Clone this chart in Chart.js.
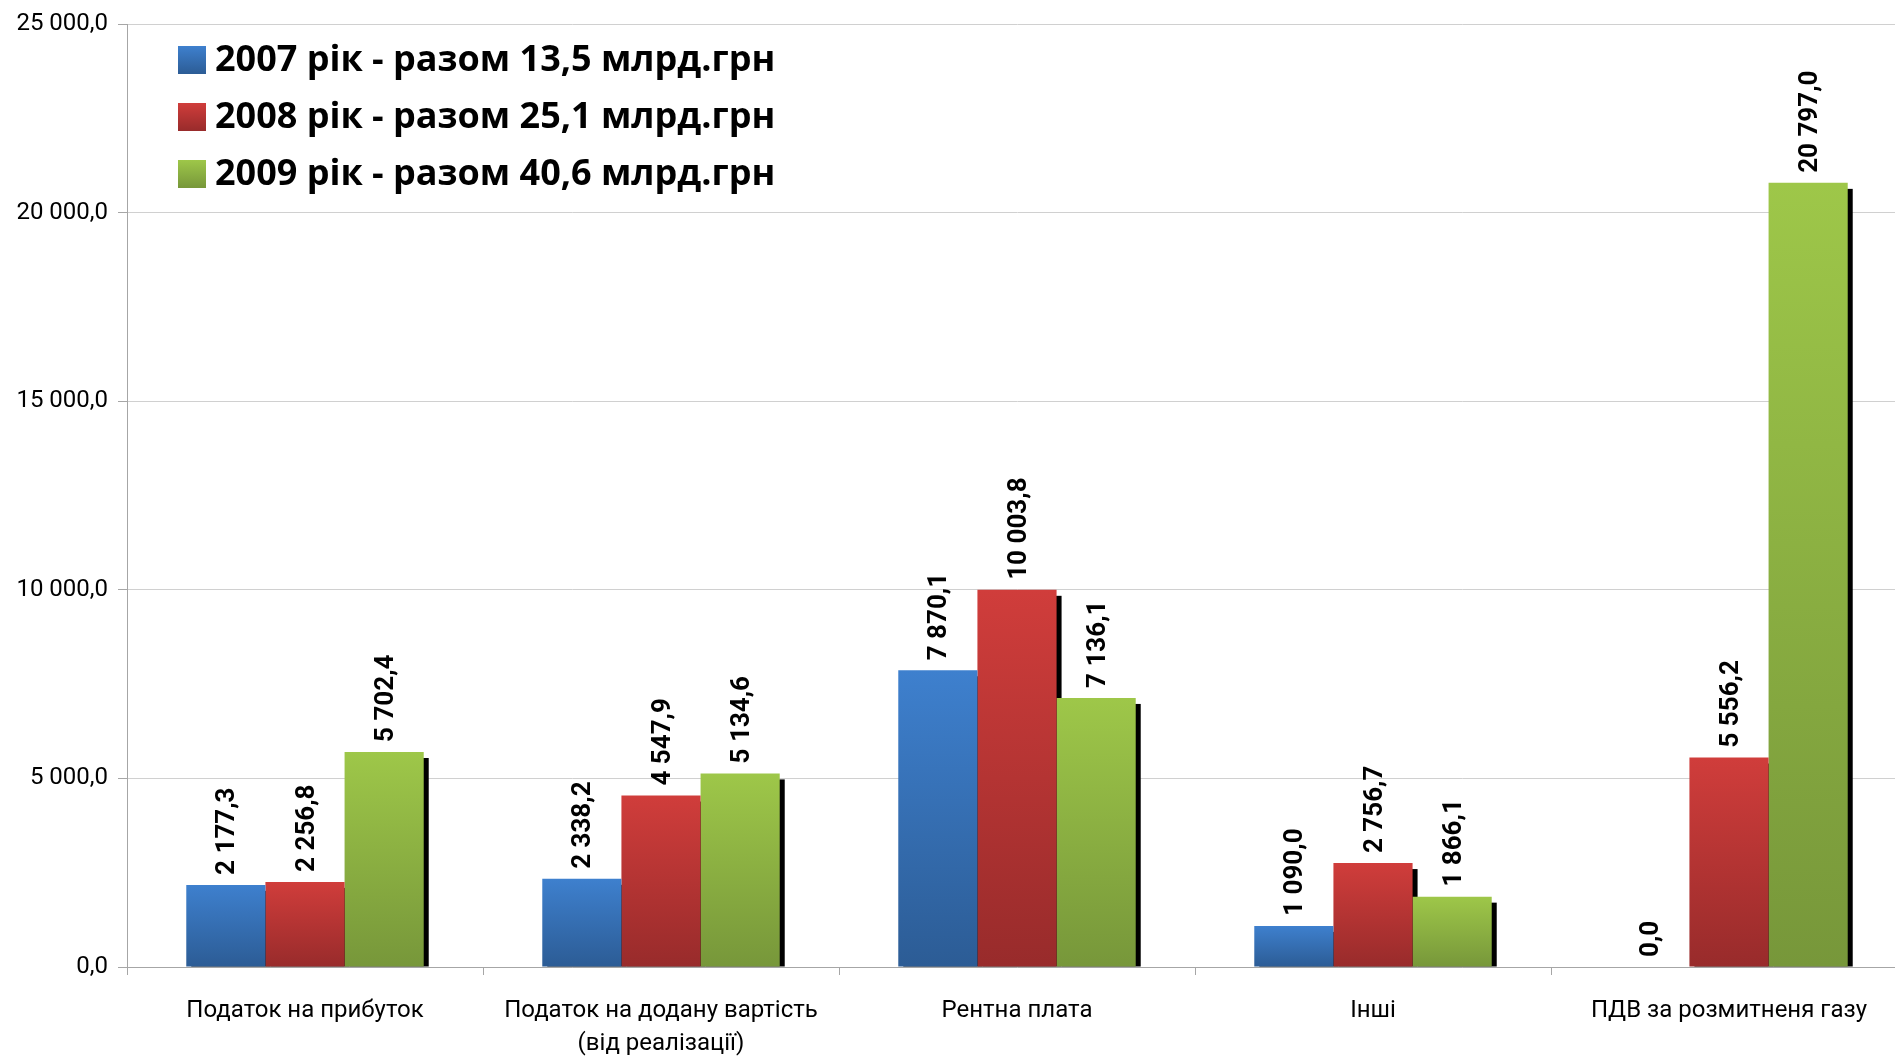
<!DOCTYPE html>
<html>
<head>
<meta charset="utf-8">
<script src="https://cdn.jsdelivr.net/npm/chart.js"></script>
<style>
  html, body { margin: 0; padding: 0; background: #fff; overflow: hidden; }
  #wrap { position: relative; width: 1907px; height: 1056px; }
</style>
</head>
<body>
<div id="wrap"><canvas id="taxChart"></canvas></div>
<script>
// categories and values (млн.грн)
const categories = [
    'Податок на прибуток',
    ['Податок на додану вартість', '(від реалізації)'],
    'Рентна плата',
    'Інші',
    'ПДВ за розмитненя газу'
];
const seriesNames = [
    '2007 рік - разом 13,5 млрд.грн',
    '2008 рік - разом 25,1 млрд.грн',
    '2009 рік - разом 40,6 млрд.грн'
];
const values2007 = [2177.3, 2338.2, 7870.1, 1090.0, 0.0];
const values2008 = [2256.8, 4547.9, 10003.8, 2756.7, 5556.2];
const values2009 = [5702.4, 5134.6, 7136.1, 1866.1, 20797.0];
const yTicks = [0, 5000, 10000, 15000, 20000, 25000];

// gradient colours: top -> bottom
const seriesColors = [
    ['#3e80ce', '#2c5c95'],
    ['#d03d3b', '#982b2b'],
    ['#9ec749', '#77973a']
];

const FONT = 'Roboto';

// "20 797,0" style numbers
function fmt(v) {
    const parts = v.toFixed(1).split('.');
    return parts[0].replace(/\B(?=(\d{3})+(?!\d))/g, ' ') + ',' + parts[1];
}

function gradientFill(idx) {
    return function(c) {
        const chart = c.chart;
        const cols = seriesColors[idx];
        if (!chart.chartArea || c.type !== 'data') return cols[0];
        const y = chart.scales.y;
        const top = y.getPixelForValue(c.raw);
        const base = y.getPixelForValue(0);
        if (base - top < 1) return cols[0];
        const g = chart.ctx.createLinearGradient(0, top, 0, base);
        g.addColorStop(0, cols[0]);
        g.addColorStop(1, cols[1]);
        return g;
    };
}

// hard black shadow to the lower right of each bar
const barShadow = {
    id: 'barShadow',
    beforeDatasetsDraw(chart) {
        const ctx = chart.ctx;
        ctx.save();
        ctx.beginPath();
        ctx.rect(chart.chartArea.left, chart.chartArea.top, chart.chartArea.width, chart.chartArea.height);
        ctx.clip();
        ctx.fillStyle = '#000';
        chart.data.datasets.forEach((ds, i) => {
            chart.getDatasetMeta(i).data.forEach(bar => {
                const p = bar.getProps(['x', 'y', 'base', 'width'], true);
                if (p.base - p.y < 6) return;
                ctx.fillRect(p.x - p.width / 2 + 5, p.y + 6, p.width, p.base - p.y - 6);
            });
        });
        ctx.restore();
    }
};

// vertical value labels above the bars
const valueLabels = {
    id: 'valueLabels',
    afterDatasetsDraw(chart) {
        const ctx = chart.ctx;
        ctx.save();
        ctx.fillStyle = '#000';
        ctx.font = 'bold 26px ' + FONT;
        ctx.textAlign = 'left';
        ctx.textBaseline = 'middle';
        chart.data.datasets.forEach((ds, i) => {
            chart.getDatasetMeta(i).data.forEach((bar, j) => {
                const p = bar.getProps(['x', 'y'], true);
                ctx.save();
                ctx.translate(p.x + 2, p.y - 10);
                ctx.rotate(-Math.PI / 2);
                ctx.fillText(fmt(ds.data[j]), 0, 0);
                ctx.restore();
            });
        });
        ctx.restore();
    }
};

// legend inside the plot, top left
const insideLegend = {
    id: 'insideLegend',
    afterDraw(chart) {
        const ctx = chart.ctx;
        const x0 = 178, y0 = 60, rowH = 57, box = 28;
        ctx.save();
        ctx.font = 'bold 36px "Open Sans"';
        ctx.textAlign = 'left';
        ctx.textBaseline = 'middle';
        chart.data.datasets.forEach((ds, i) => {
            const cy = y0 + i * rowH;
            const g = ctx.createLinearGradient(0, cy - box / 2, 0, cy + box / 2);
            g.addColorStop(0, seriesColors[i][0]);
            g.addColorStop(1, seriesColors[i][1]);
            ctx.fillStyle = g;
            ctx.fillRect(x0, cy - box / 2, box, box);
            ctx.fillStyle = '#000';
            ctx.fillText(ds.label, x0 + box + 9, cy + 1);
        });
        ctx.restore();
    }
};

const ctx = document.getElementById('taxChart').getContext('2d');
new Chart(ctx, {
    type: 'bar',
    data: {
        labels: categories,
        datasets: [
            { label: seriesNames[0], data: values2007, backgroundColor: gradientFill(0) },
            { label: seriesNames[1], data: values2008, backgroundColor: gradientFill(1) },
            { label: seriesNames[2], data: values2009, backgroundColor: gradientFill(2) }
        ]
    },
    options: {
        responsive: true,
        maintainAspectRatio: false,
        animation: false,
        events: [],
        layout: { padding: { top: 22, right: 0, left: 0, bottom: 0 } },
        datasets: {
            bar: { barPercentage: 1, categoryPercentage: 0.667, borderWidth: 0 }
        },
        plugins: {
            legend: { display: false },
            tooltip: { enabled: false }
        },
        scales: {
            x: {
                afterFit: s => { s.height = 89; },
                grid: {
                    offset: true,
                    drawOnChartArea: false,
                    drawTicks: true,
                    tickLength: 8,
                    tickColor: '#a6a6a6'
                },
                border: { color: '#a6a6a6', width: 1 },
                ticks: {
                    color: '#000',
                    padding: 19,
                    maxRotation: 0,
                    autoSkip: false,
                    font: { family: FONT, size: 24, lineHeight: 1.4 }
                }
            },
            y: {
                min: 0,
                max: 25000,
                afterFit: s => { s.width = 127; },
                afterBuildTicks: s => { s.ticks = yTicks.map(v => ({ value: v })); },
                grid: {
                    color: '#d0d0d0',
                    drawTicks: true,
                    tickLength: 9,
                    tickColor: '#a6a6a6'
                },
                border: { color: '#a6a6a6', width: 1 },
                ticks: {
                    color: '#000',
                    padding: 10,
                    font: { family: FONT, size: 24 },
                    callback: v => fmt(v)
                }
            }
        }
    },
    plugins: [barShadow, valueLabels, insideLegend]
});
</script>
</body>
</html>
